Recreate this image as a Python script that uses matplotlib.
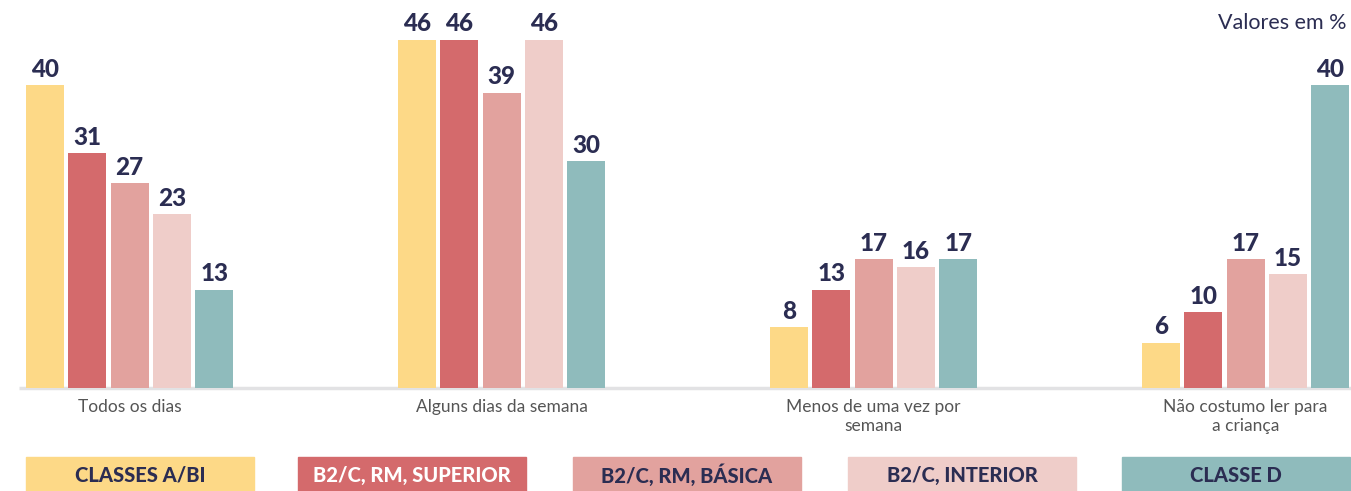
import matplotlib

matplotlib.use("Agg")

import matplotlib.pyplot as plt
import numpy as np
from matplotlib.patches import Rectangle

categories = [
    "Todos os dias",
    "Alguns dias da semana",
    "Menos de uma vez por\nsemana",
    "Não costumo ler para\na criança",
]
series_names = [
    "CLASSES A/BI",
    "B2/C, RM, SUPERIOR",
    "B2/C, RM, BÁSICA",
    "B2/C, INTERIOR",
    "CLASSE D",
]
values = [
    [40, 46, 8, 6],
    [31, 46, 13, 10],
    [27, 39, 17, 17],
    [23, 46, 16, 15],
    [13, 30, 17, 40],
]
colors = ["#FDD987", "#D46A6C", "#E2A29E", "#EFCDC9", "#8FBBBC"]
legend_text_colors = ["#2B2D52", "#FFFFFF", "#2B2D52", "#2B2D52", "#2B2D52"]
NAVY = "#2B2D52"
GRAY = "#555555"

W, H = 1351, 491
fig = plt.figure(figsize=(W / 100, H / 100), dpi=100)
ax = fig.add_axes([0, 0, 1, 1])

# layout in pixel-ish units: group spacing 372 px, first group centred at 129.5 px
group_px = 372.0
first_px = 129.5
step = 42.3 / group_px
width = 38.0 / group_px
base_px = 103.0  # baseline distance from bottom
px_per_unit = 7.575

ax.set_xlim(-first_px / group_px, (W - first_px) / group_px)
ax.set_ylim(-base_px / px_per_unit, (H - base_px) / px_per_unit)
ax.axis("off")

x = np.arange(len(categories))
for i, (name, vals, col) in enumerate(zip(series_names, values, colors)):
    pos = x + (i - 2) * step
    ax.bar(pos, vals, width=width, color=col, zorder=2)
    for xb, v in zip(pos, vals):
        ax.annotate(str(v), (xb, v), xytext=(0, 3), textcoords="offset points",
                    ha="center", va="bottom", fontsize=17.5, fontweight="black",
                    color=NAVY, family="Lato")

# baseline
x0 = (19 - first_px) / group_px
x1 = (W - first_px) / group_px
ax.plot([x0, x1], [0, 0], color="#E2E2E4", lw=2.5, zorder=1, solid_capstyle="butt")

for xc, cat in zip(x, categories):
    ax.annotate(cat, (xc, 0), xytext=(0, -8), textcoords="offset points",
                ha="center", va="top", fontsize=12.5, color=GRAY,
                family="Lato", linespacing=1.25)

fig.text(1347 / W, 1 - 23 / H, "Valores em %", ha="right", va="center",
         fontsize=15.5, color=NAVY, family="Lato")

# legend boxes
box_lefts = [26, 298, 573, 848, 1122]
box_w = 228
box_top = 457
for left, name, col, tcol in zip(box_lefts, series_names, colors, legend_text_colors):
    fig.patches.append(Rectangle((left / W, 0), box_w / W, (H - box_top) / H,
                                 transform=fig.transFigure, color=col, zorder=1))
    fig.text((left + box_w / 2) / W, 1 - 475 / H, name, ha="center", va="center",
             fontsize=14.5, fontweight="black", color=tcol, family="Lato")

fig.savefig("out.png", dpi=100)
